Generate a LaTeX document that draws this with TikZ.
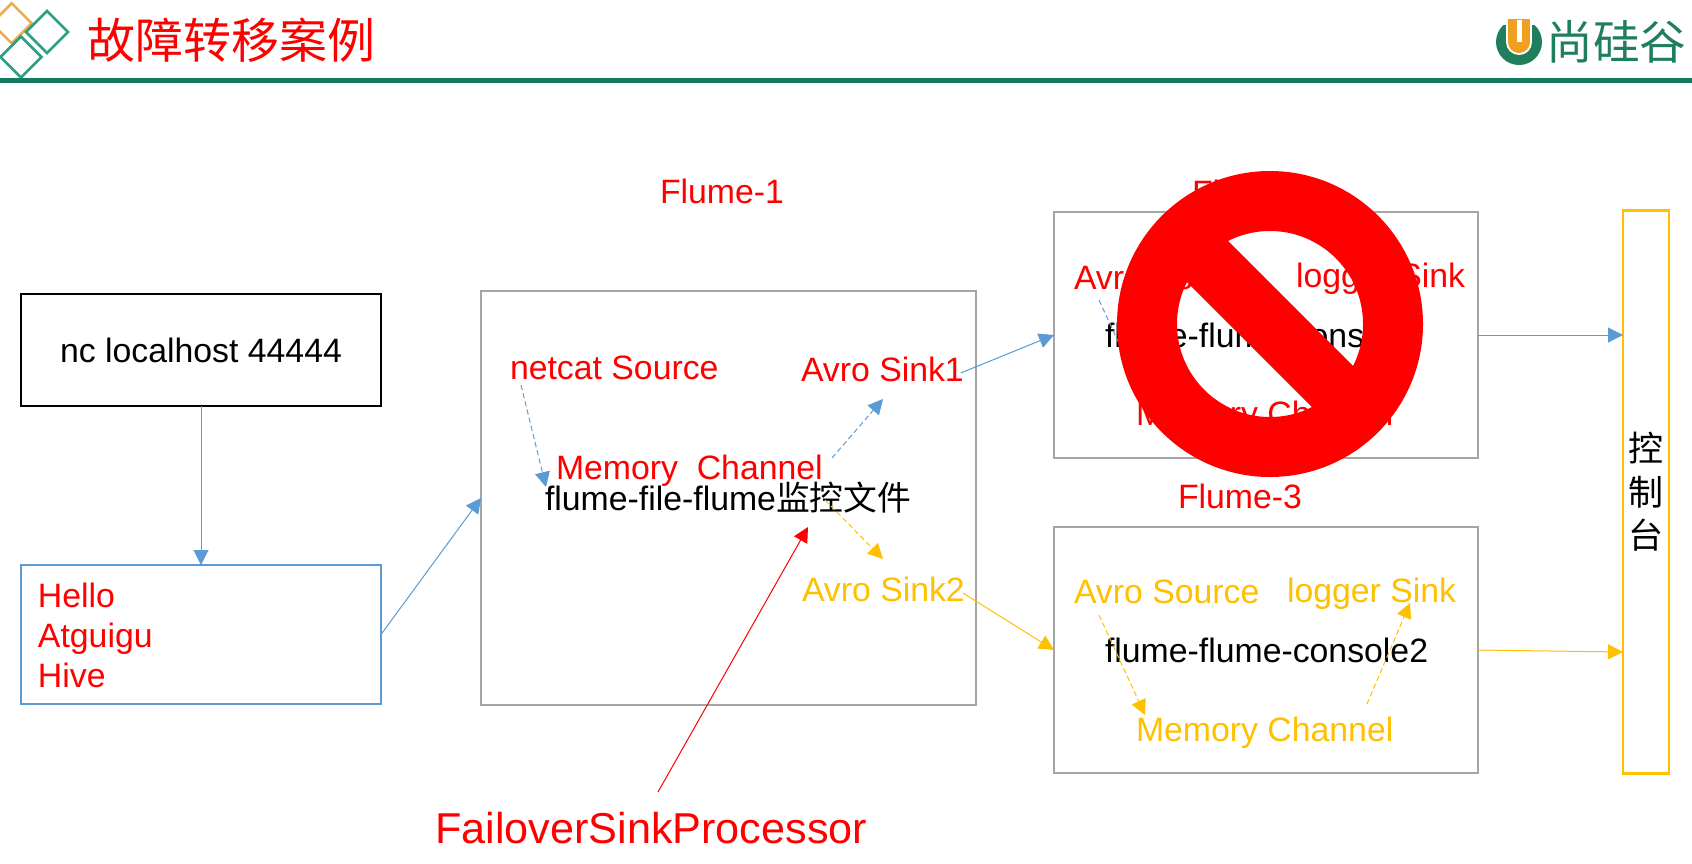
\documentclass[tikz,border=0pt]{standalone}
\usepackage{fontspec}
\setmainfont{Liberation Sans}
\newfontfamily\cjk{Noto Sans CJK SC}
\usetikzlibrary{arrows.meta}
\definecolor{bluec}{HTML}{5B9BD5}
\definecolor{yelc}{HTML}{FFC000}
\definecolor{grayc}{HTML}{A5A5A5}
\definecolor{tealc}{HTML}{147A62}
\definecolor{diamt}{HTML}{2E9E85}
\definecolor{diamo}{HTML}{E8AE4A}
\definecolor{logog}{HTML}{1F7F5C}
\definecolor{logoo}{HTML}{F0A020}
\tikzset{
  x=0.5pt,y=-0.5pt,
  boxn/.style={draw,line width=1.2pt,inner sep=0pt,outer sep=0pt,fill=none},
  txt/.style={anchor=base west,inner sep=0pt,outer sep=0pt,font=\fontsize{16.9}{20}\selectfont},
  conn/.style={line width=0.5pt,-{Triangle[length=7.5pt,width=7.5pt]}},
  dsh/.style={conn,dash pattern=on 2.6pt off 1.6pt},
}
\begin{document}
\begin{tikzpicture}
\useasboundingbox (0,0) rectangle (1692,863);
\fill[white] (0,0) rectangle (1692,863);
% header
\draw[diamo,line width=1.3pt] (11.7,3.3) -- (31.7,23.3) -- (11.7,43.3) -- (-8.3,23.3) -- cycle;
\draw[diamt,line width=1.3pt,fill=white] (47,11) -- (68,32) -- (47,53) -- (26,32) -- cycle;
\draw[diamt,line width=1.3pt,fill=white] (21,36.5) -- (41.5,57) -- (21,77.5) -- (0.5,57) -- cycle;
\fill[tealc] (0,77.5) rectangle (1692,83);
\node[txt,font=\fontsize{24}{28}\cjk,text=red] (title) at (87,58) {故障转移案例};
% logo
\begin{scope}
\clip (1490,25) rectangle (1550,70);
\fill[logog] (1519,42) circle[radius=11.5pt];
\end{scope}
\fill[white] (1506,15) rectangle (1532,42);
\fill[white] (1519,42) circle[radius=6.5pt];
\fill[logoo] (1508,19) rectangle (1530,42);
\fill[logoo] (1519,42) circle[radius=5.5pt];
\fill[white] (1517,20) rectangle (1522,42);
\node[anchor=west,inner sep=0pt,font=\fontsize{23.3}{26}\cjk,text=logog] (logotext) at (1546,42) {尚硅谷};
% boxes
\node[boxn,draw=black,line width=1.35pt,minimum width=180pt,minimum height=56pt,font=\fontsize{16.9}{20}\selectfont] (nc) at (201,350) {nc localhost 44444};
\node[boxn,draw=bluec,minimum width=180pt,minimum height=69.5pt] (data) at (201,634.5) {};
\node[boxn,draw=grayc,minimum width=247.5pt,minimum height=207pt] (f1) at (728.5,498) {};
\node[boxn,draw=grayc,minimum width=212pt,minimum height=123pt] (f2) at (1266,335) {};
\node[boxn,draw=grayc,minimum width=212pt,minimum height=123pt] (f3) at (1266,650) {};
\node[boxn,draw=yelc,minimum width=23pt,minimum height=281.5pt,align=center,font=\fontsize{17.5}{21.7}\cjk] (console) at (1646,492) {控\\制\\台};
% left text
\node[txt,anchor=west,align=left,text=red] (hello) at (38,635.5) {Hello\\Atguigu\\Hive};
% flume 1
\node[txt,text=red] (l1) at (660,203) {Flume-1};
\node[txt,text=red] (ns) at (510,379) {netcat Source};
\node[txt,text=red] (s1) at (801,381) {Avro Sink1};
\node[txt,text=red] (mc1) at (556,479) {Memory\ \ Channel};
\node[txt] (fff) at (545,510) {flume-file-flume{\cjk 监控文件}};
\node[txt,text=yelc] (s2) at (802,601) {Avro Sink2};
\node[txt,font=\fontsize{21.6}{26}\selectfont,text=red] (fsp) at (435,843) {FailoverSinkProcessor};
% flume 2
\node[txt,text=red] (l2) at (1192,204) {Flume-2};
\node[txt,text=red] (as2) at (1074,289) {Avro Source};
\node[txt,text=red] (ls2) at (1296,287) {logger Sink};
\node[txt] (ffc1) at (1105,347) {flume-flume-console\kern-3pt 1};
\node[txt,text=red] (mc2) at (1136,425) {Memory Channel};
% flume 3
\node[txt,text=red] (l3) at (1178,508) {Flume-3};
\node[txt,text=yelc] (as3) at (1074,603) {Avro Source};
\node[txt,text=yelc] (ls3) at (1287,602) {logger Sink};
\node[txt] (ffc2) at (1105,662) {flume-flume-console2};
\node[txt,text=yelc] (mc3) at (1136,741) {Memory Channel};
% free ends
\coordinate (a1) at (521,385);
\coordinate (a2) at (546,487);
\coordinate (b1) at (832,458);
\coordinate (b2) at (883,399);
\coordinate (c1) at (825,500);
\coordinate (c2) at (883,559);
\coordinate (d1) at (658,792);
\coordinate (d2) at (808,527);
\coordinate (e1) at (1099,300);
\coordinate (e2) at (1145,400);
\coordinate (g1) at (1099,615);
\coordinate (g2) at (1145,715);
\coordinate (h1) at (1367,704);
\coordinate (h2) at (1410,603);
\coordinate (i2) at (1623,652);
% connectors
\draw[conn,bluec] (nc.south) -- (data.north);
\draw[conn,bluec] (data.east) -- (f1.west);
\draw[conn,bluec] ([xshift=-1.5pt,yshift=-2pt]s1.east) -- (f2.west);
\draw[conn,yelc] ([xshift=-1pt,yshift=-2pt]s2.east) -- (f3.west);
\draw[conn,bluec] (f2.east) -- (f2.east -| console.west);
\draw[conn,yelc] (f3.east) -- (i2);
\draw[dsh,bluec] (a1) -- (a2);
\draw[dsh,bluec] (b1) -- (b2);
\draw[dsh,yelc] (c1) -- (c2);
\draw[conn,red] (d1) -- (d2);
\draw[dsh,bluec] (e1) -- (e2);
\draw[dsh,yelc] (g1) -- (g2);
\draw[dsh,yelc] (h1) -- (h2);
% prohibition sign
\draw[red,line width=30pt] (1270,324) circle[radius=61.5pt];
\draw[red,line width=29pt] (1183,237) -- (1357,411);
\end{tikzpicture}
\end{document}
